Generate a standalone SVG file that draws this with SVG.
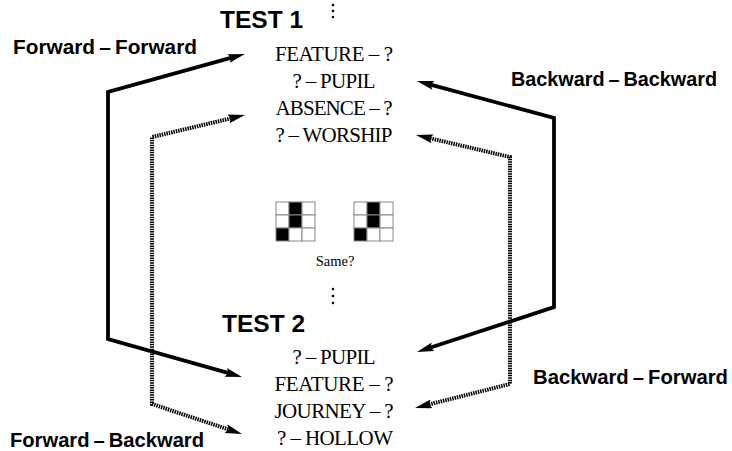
<svg xmlns="http://www.w3.org/2000/svg" width="732" height="451" viewBox="0 0 732 451">
<style>
.lbl{font-family:"Liberation Sans",Arial,sans-serif;font-weight:bold;font-size:20.5px;fill:#000}
.test{font-family:"Liberation Sans",Arial,sans-serif;font-weight:bold;font-size:24.5px;fill:#000}
.word{font-family:"Liberation Serif","Times New Roman",serif;font-size:21px;fill:#000;text-anchor:middle}
.solid{fill:none;stroke:#000;stroke-width:3.8;stroke-linejoin:miter;marker-start:url(#ah);marker-end:url(#ah)}
.dot{fill:none;stroke:#000;stroke-width:4;stroke-dasharray:1.5 0.9;stroke-linejoin:miter;marker-start:url(#ah);marker-end:url(#ah)}
.cell{fill:#fff;stroke:#888;stroke-width:1}
.blk{fill:#000;stroke:#888;stroke-width:1}
</style>
<defs>
<marker id="ah" viewBox="0 0 17 9" refX="5" refY="4.5" markerWidth="17" markerHeight="9" markerUnits="userSpaceOnUse" orient="auto-start-reverse">
<path d="M0,0 L17,4.5 L0,9 L3,4.5 z" fill="#000" stroke="none"/>
</marker>
<g id="grid">
<rect class="cell" x="0" y="0" width="13" height="13"/>
<rect class="blk" x="13" y="0" width="13" height="13"/>
<rect class="cell" x="26" y="0" width="13" height="13"/>
<rect class="cell" x="0" y="13" width="13" height="13"/>
<rect class="blk" x="13" y="13" width="13" height="13"/>
<rect class="cell" x="26" y="13" width="13" height="13"/>
<rect class="blk" x="0" y="26" width="13" height="13"/>
<rect class="cell" x="13" y="26" width="13" height="13"/>
<rect class="cell" x="26" y="26" width="13" height="13"/>
</g>
</defs>
<rect width="732" height="451" fill="#fff"/>

<g id="connectors">
<path class="solid" d="M233.4,57.2 L108,92 L108,339 L230.5,373.7"/>
<path class="dot" d="M233.3,117.8 L152,137 L152,404 L230.6,430.2"/>
<path class="solid" d="M428.6,84.1 L554,118 L554,307 L428.4,348.3"/>
<path class="dot" d="M427.7,137.7 L510,157 L510,384 L426.7,405.0"/>
</g>

<g id="test1">
<text class="test" x="220" y="28">TEST 1</text>
<circle cx="333" cy="5" r="1.3"/>
<circle cx="333" cy="11" r="1.3"/>
<circle cx="333" cy="17" r="1.3"/>
<text class="word" x="334" y="61" textLength="118" lengthAdjust="spacing">FEATURE – ?</text>
<text class="word" x="334" y="88" textLength="83" lengthAdjust="spacing">? – PUPIL</text>
<text class="word" x="334" y="115" textLength="117" lengthAdjust="spacing">ABSENCE – ?</text>
<text class="word" x="334" y="142" textLength="117" lengthAdjust="spacing">? – WORSHIP</text>
</g>

<g id="compare">
<use href="#grid" x="276" y="202"/>
<use href="#grid" x="354" y="202"/>
<text x="335" y="266" font-family="Liberation Serif,Times New Roman,serif" font-size="14.5" text-anchor="middle">Same?</text>
<circle cx="333" cy="289" r="1.3"/>
<circle cx="333" cy="296" r="1.3"/>
<circle cx="333" cy="303" r="1.3"/>
</g>

<g id="test2">
<text class="test" x="222" y="332">TEST 2</text>
<text class="word" x="334" y="364" textLength="83" lengthAdjust="spacing">? – PUPIL</text>
<text class="word" x="334" y="391" textLength="119" lengthAdjust="spacing">FEATURE – ?</text>
<text class="word" x="334" y="418" textLength="119" lengthAdjust="spacing">JOURNEY – ?</text>
<text class="word" x="335" y="445" textLength="116" lengthAdjust="spacing">? – HOLLOW</text>
</g>

<g id="label-ff"><text class="lbl" x="13" y="54" textLength="184" lengthAdjust="spacingAndGlyphs">Forward&#8201;–&#8201;Forward</text></g>
<g id="label-bb"><text class="lbl" x="511" y="86" textLength="206" lengthAdjust="spacingAndGlyphs">Backward&#8201;–&#8201;Backward</text></g>
<g id="label-bf"><text class="lbl" x="533" y="384" textLength="195" lengthAdjust="spacingAndGlyphs">Backward&#8201;–&#8201;Forward</text></g>
<g id="label-fb"><text class="lbl" x="10" y="447" textLength="194" lengthAdjust="spacingAndGlyphs">Forward&#8201;–&#8201;Backward</text></g>
</svg>
